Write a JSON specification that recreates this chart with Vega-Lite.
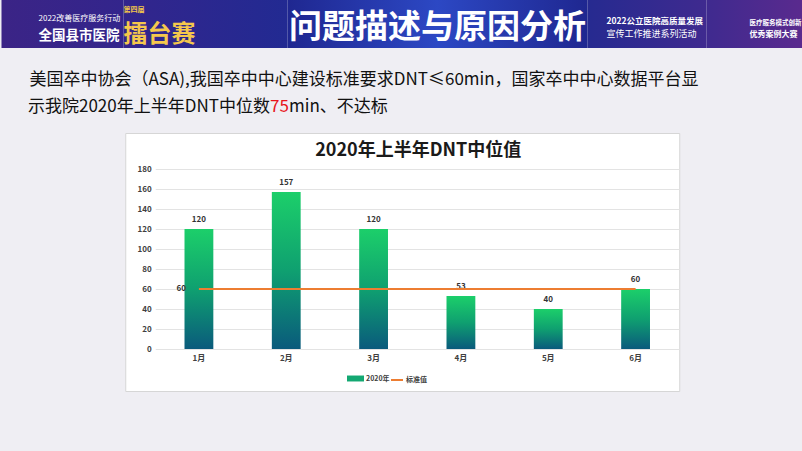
{
  "$schema": "https://vega.github.io/schema/vega-lite/v6.json",
  "background": "#efeef3",
  "padding": 0,
  "spacing": 0,
  "center": true,
  "config": {
    "view": {"stroke": null},
    "font": "Noto Sans CJK SC",
    "title": {"font": "Noto Sans CJK SC", "subtitleFont": "Noto Sans CJK SC"},
    "axis": {"labelFont": "Noto Sans CJK SC"},
    "legend": {"labelFont": "Noto Sans CJK SC", "padding": 0},
    "text": {"font": "Noto Sans CJK SC"}
  },
  "vconcat": [
    {
      "spacing": 0,
      "hconcat": [
        {
          "width": 122,
          "height": 48,
          "data": {"values": [{"k": 1}]},
          "mark": {"type": "rect", "fill": {"gradient": "linear", "x1": 0, "y1": 0, "x2": 1, "y2": 0, "stops": [{"offset": 0, "color": "#3b2486"}, {"offset": 1, "color": "#33258c"}]}},
          "encoding": {"x": {"value": 0}, "x2": {"value": "width"}, "y": {"value": 0}, "y2": {"value": "height"}},
          "title": {
            "text": "2022改善医疗服务行动",
            "subtitle": "全国县市医院",
            "anchor": "start",
            "dx": 37,
            "offset": -42,
            "fontSize": 8,
            "fontWeight": "normal",
            "color": "#ffffff",
            "subtitleFontSize": 13.5,
            "subtitleFontWeight": "bold",
            "subtitleColor": "#ffffff",
            "subtitlePadding": 6
          }
        },
        {
          "width": 164,
          "height": 48,
          "data": {"values": [{"k": 1}]},
          "mark": {"type": "rect", "fill": {"gradient": "linear", "x1": 0, "y1": 0, "x2": 1, "y2": 0, "stops": [{"offset": 0, "color": "#33258c"}, {"offset": 1, "color": "#222a92"}]}},
          "encoding": {"x": {"value": 0}, "x2": {"value": "width"}, "y": {"value": 0}, "y2": {"value": "height"}},
          "title": {
            "text": "第四届",
            "subtitle": "擂台赛",
            "anchor": "start",
            "dx": 0,
            "offset": -47,
            "fontSize": 7,
            "fontWeight": "bold",
            "color": "#f2c64a",
            "subtitleFontSize": 24,
            "subtitleFontWeight": "bold",
            "subtitleColor": "#f5c84c",
            "subtitlePadding": 10
          }
        },
        {
          "width": 300,
          "height": 48,
          "data": {"values": [{"k": 1}]},
          "mark": {"type": "rect", "fill": {"gradient": "linear", "x1": 0, "y1": 0, "x2": 1, "y2": 0, "stops": [{"offset": 0, "color": "#1f2790"}, {"offset": 0.5, "color": "#2c48c4"}, {"offset": 1, "color": "#1f2790"}]}},
          "encoding": {"x": {"value": 0}, "x2": {"value": "width"}, "y": {"value": 0}, "y2": {"value": "height"}},
          "title": {
            "text": "问题描述与原因分析",
            "anchor": "middle",
            "offset": -45,
            "fontSize": 33,
            "fontWeight": "bold",
            "color": "#ffffff"
          }
        },
        {
          "width": 119,
          "height": 48,
          "data": {"values": [{"k": 1}]},
          "mark": {"type": "rect", "fill": {"gradient": "linear", "x1": 0, "y1": 0, "x2": 1, "y2": 0, "stops": [{"offset": 0, "color": "#262a90"}, {"offset": 1, "color": "#3f2a8f"}]}},
          "encoding": {"x": {"value": 0}, "x2": {"value": "width"}, "y": {"value": 0}, "y2": {"value": "height"}},
          "title": {
            "text": "2022公立医院高质量发展",
            "subtitle": "宣传工作推进系列活动",
            "anchor": "start",
            "dx": 19,
            "offset": -39,
            "fontSize": 8.5,
            "fontWeight": "bold",
            "color": "#ffffff",
            "subtitleFontSize": 9,
            "subtitleColor": "#ffffff",
            "subtitlePadding": 5
          }
        },
        {
          "width": 97,
          "height": 48,
          "data": {"values": [{"k": 1}]},
          "mark": {"type": "rect", "fill": {"gradient": "linear", "x1": 0, "y1": 0, "x2": 1, "y2": 0, "stops": [{"offset": 0, "color": "#3f2a8f"}, {"offset": 1, "color": "#5a2a8e"}]}},
          "encoding": {"x": {"value": 0}, "x2": {"value": "width"}, "y": {"value": 0}, "y2": {"value": "height"}},
          "title": {
            "text": "医疗服务模式创新",
            "subtitle": "优秀案例大赛",
            "anchor": "start",
            "dx": 43,
            "offset": -39,
            "fontSize": 6.5,
            "fontWeight": "bold",
            "color": "#ffffff",
            "subtitleFontSize": 8,
            "subtitleFontWeight": "bold",
            "subtitleColor": "#ffffff",
            "subtitlePadding": 5
          }
        }
      ]
    },
    {
      "width": 802,
      "height": 45,
      "data": {"values": [{"k": 1}]},
      "mark": {"type": "rect", "fill": "#efeef3"},
      "encoding": {"x": {"value": 0}, "x2": {"value": "width"}, "y": {"value": 0}, "y2": {"value": "height"}},
      "title": {
        "text": "美国卒中协会（ASA),我国卒中中心建设标准要求DNT≤60min，国家卒中中心数据平台显",
        "anchor": "start",
        "dx": 28,
        "offset": -41,
        "fontSize": 17,
        "fontWeight": "normal",
        "color": "#111111"
      }
    },
    {
      "spacing": 0,
      "hconcat": [
        {
          "width": 268,
          "height": 39,
          "data": {"values": [{"k": 1}]},
          "mark": {"type": "rect", "fill": "#efeef3"},
          "encoding": {"x": {"value": 0}, "x2": {"value": "width"}, "y": {"value": 0}, "y2": {"value": "height"}},
          "title": {"text": "示我院2020年上半年DNT中位数", "anchor": "start", "dx": 28, "offset": -23, "fontSize": 17, "fontWeight": "normal", "color": "#111111"}
        },
        {
          "width": 18,
          "height": 39,
          "data": {"values": [{"k": 1}]},
          "mark": {"type": "rect", "fill": "#efeef3"},
          "encoding": {"x": {"value": 0}, "x2": {"value": "width"}, "y": {"value": 0}, "y2": {"value": "height"}},
          "title": {"text": "75", "anchor": "start", "dx": 0, "offset": -23, "fontSize": 17, "fontWeight": "normal", "color": "#e8141c"}
        },
        {
          "width": 516,
          "height": 39,
          "data": {"values": [{"k": 1}]},
          "mark": {"type": "rect", "fill": "#efeef3"},
          "encoding": {"x": {"value": 0}, "x2": {"value": "width"}, "y": {"value": 0}, "y2": {"value": "height"}},
          "title": {"text": "min、不达标", "anchor": "start", "dx": 0, "offset": -23, "fontSize": 17, "fontWeight": "normal", "color": "#111111"}
        }
      ]
    },
    {
      "width": 554,
      "height": 258,
      "view": {"fill": "#ffffff", "stroke": "#d6d6d6", "strokeWidth": 1},
      "title": {
        "text": "2020年上半年DNT中位值",
        "anchor": "middle",
        "dx": 16,
        "offset": -27,
        "fontSize": 18,
        "fontWeight": "bold",
        "color": "#1a1a1a"
      },
      "data": {
        "values": [
          {"month": "1月", "value": 120, "std": 60},
          {"month": "2月", "value": 157, "std": 60},
          {"month": "3月", "value": 120, "std": 60},
          {"month": "4月", "value": 53, "std": 60},
          {"month": "5月", "value": 40, "std": 60},
          {"month": "6月", "value": 60, "std": 60}
        ]
      },
      "encoding": {
        "x": {
          "field": "month",
          "type": "nominal",
          "sort": null,
          "scale": {"range": [30, 554], "paddingInner": 0.67, "paddingOuter": 0.335},
          "axis": {"offset": -42, "domain": false, "ticks": false, "labelAngle": 0, "labelFontSize": 8, "labelFontWeight": "bold", "labelColor": "#404040", "labelPadding": 5, "title": null}
        }
      },
      "layer": [
        {
          "mark": {"type": "bar", "fill": {"gradient": "linear", "x1": 0, "y1": 0, "x2": 0, "y2": 1, "stops": [{"offset": 0, "color": "#1ccf6a"}, {"offset": 0.5, "color": "#0fa070"}, {"offset": 1, "color": "#0a5a7c"}]}},
          "encoding": {
            "y": {
              "field": "value",
              "type": "quantitative",
              "scale": {"domain": [-42, 216], "nice": false, "zero": false},
              "axis": {"values": [0, 20, 40, 60, 80, 100, 120, 140, 160, 180], "labelOverlap": false, "offset": -30, "domain": false, "ticks": false, "labelFontSize": 8, "labelFontWeight": "bold", "labelColor": "#404040", "labelPadding": 4, "grid": true, "gridColor": "#e3e3e3", "title": null}
            },
            "y2": {"datum": 0}
          }
        },
        {
          "transform": [{"filter": "false"}],
          "mark": {"type": "bar"},
          "encoding": {
            "y": {
              "field": "value",
              "type": "quantitative",
              "axis": {"values": [0, 20, 40, 60, 80, 100, 120, 140, 160, 180], "labelOverlap": false, "offset": -30, "domain": false, "ticks": false, "labelFontSize": 8, "labelFontWeight": "bold", "labelColor": "#404040", "labelPadding": 4, "grid": true, "gridColor": "#e3e3e3", "title": null}
            },
            "y2": {"datum": 0},
            "fill": {
              "datum": "2020年",
              "type": "nominal",
              "scale": {"range": ["#13a872"]},
              "legend": {"orient": "none", "legendX": 347, "legendY": 370, "title": null, "symbolType": "M-1,-0.35H1V0.35H-1Z", "symbolSize": 289, "symbolStrokeWidth": 0, "labelFontSize": 7, "labelFontWeight": "bold", "labelColor": "#404040", "labelOffset": 2}
            }
          }
        },
        {
          "mark": {"type": "text", "dy": -9, "fontSize": 8, "fontWeight": "bold", "color": "#333333"},
          "encoding": {
            "y": {
              "field": "value",
              "type": "quantitative",
              "axis": {"values": [0, 20, 40, 60, 80, 100, 120, 140, 160, 180], "labelOverlap": false, "offset": -30, "domain": false, "ticks": false, "labelFontSize": 8, "labelFontWeight": "bold", "labelColor": "#404040", "labelPadding": 4, "grid": true, "gridColor": "#e3e3e3", "title": null}
            },
            "text": {"field": "value", "type": "quantitative"}
          }
        },
        {
          "mark": {"type": "line", "strokeWidth": 2},
          "encoding": {
            "y": {
              "field": "std",
              "type": "quantitative",
              "axis": {"values": [0, 20, 40, 60, 80, 100, 120, 140, 160, 180], "labelOverlap": false, "offset": -30, "domain": false, "ticks": false, "labelFontSize": 8, "labelFontWeight": "bold", "labelColor": "#404040", "labelPadding": 4, "grid": true, "gridColor": "#e3e3e3", "title": null}
            },
            "stroke": {
              "datum": "标准值",
              "type": "nominal",
              "scale": {"range": ["#ED7D31"]},
              "legend": {"orient": "none", "legendX": 390, "legendY": 373, "title": null, "symbolType": "stroke", "symbolSize": 144, "symbolStrokeWidth": 2, "labelFontSize": 7, "labelFontWeight": "bold", "labelColor": "#404040", "labelOffset": 2}
            }
          }
        },
        {
          "transform": [{"filter": "datum.month == '1月'"}],
          "mark": {"type": "text", "dx": -13, "align": "right", "fontSize": 8, "fontWeight": "bold", "color": "#333333"},
          "encoding": {
            "y": {
              "field": "std",
              "type": "quantitative",
              "axis": {"values": [0, 20, 40, 60, 80, 100, 120, 140, 160, 180], "labelOverlap": false, "offset": -30, "domain": false, "ticks": false, "labelFontSize": 8, "labelFontWeight": "bold", "labelColor": "#404040", "labelPadding": 4, "grid": true, "gridColor": "#e3e3e3", "title": null}
            },
            "text": {"field": "std", "type": "quantitative"}
          }
        }
      ]
    },
    {
      "width": 802,
      "height": 61,
      "data": {"values": [{"k": 1}]},
      "mark": {"type": "rect", "fill": "#efeef3"},
      "encoding": {"x": {"value": 0}, "x2": {"value": "width"}, "y": {"value": 0}, "y2": {"value": "height"}}
    }
  ]
}
